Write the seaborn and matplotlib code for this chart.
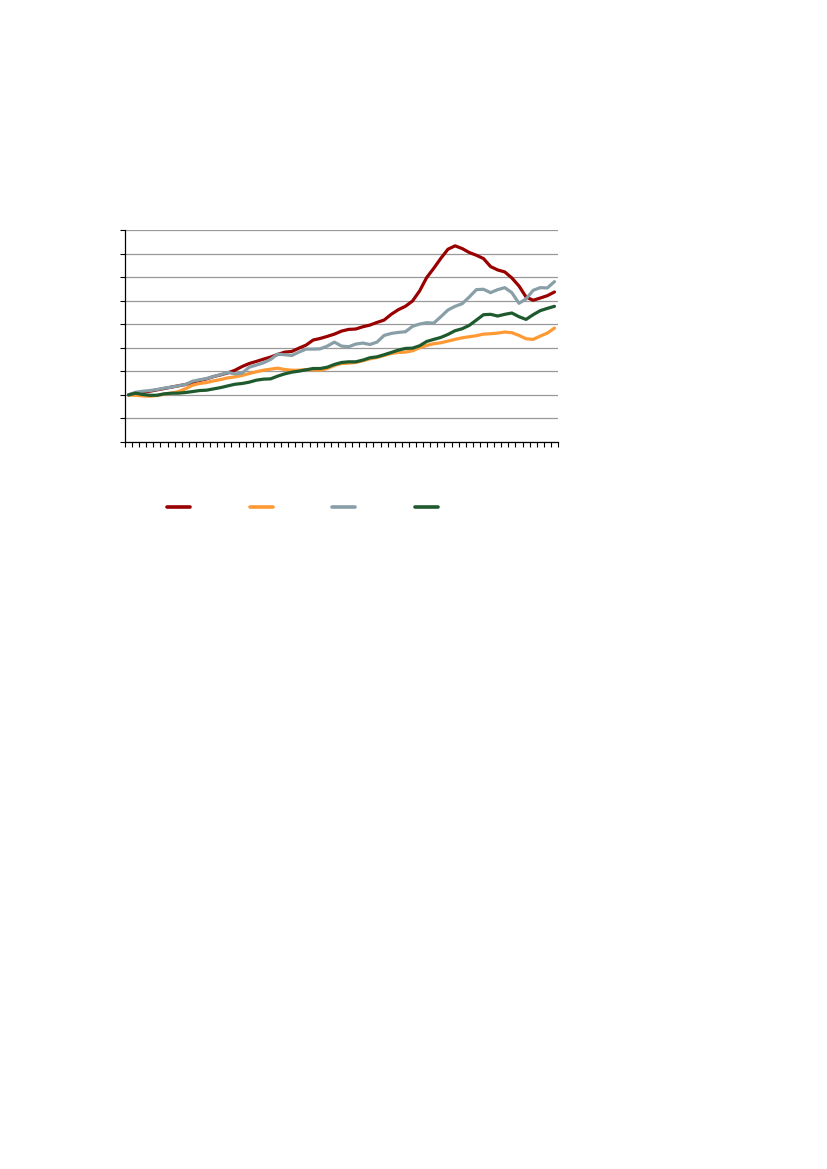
import numpy as np
import pandas as pd
import matplotlib
matplotlib.use("Agg")
import matplotlib.pyplot as plt
import seaborn as sns
from matplotlib.lines import Line2D

# quarterly index values, start = 100
periods = list(range(61))

red_series = [100.0, 102.1, 102.8, 103.9, 105.3, 106.7, 108.2, 109.6, 111.0, 113.1,
              115.2, 117.0, 119.5, 121.3, 123.4, 126.2, 130.1, 133.3, 135.5, 137.9,
              140.1, 142.9, 145.4, 146.1, 149.6, 152.8, 158.2, 159.9, 162.1, 164.5,
              167.7, 169.5, 169.9, 172.3, 174.1, 176.9, 179.4, 185.5, 190.4, 194.0,
              199.6, 210.3, 224.5, 234.4, 245.0, 254.6, 258.2, 255.3, 251.1, 248.2,
              244.7, 236.2, 232.6, 230.5, 224.1, 215.6, 203.9, 200.4, 202.8, 205.3,
              209.2]

orange_series = [100.0, 99.6, 98.9, 98.6, 99.3, 100.7, 101.8, 103.5, 106.4, 110.3,
                 112.1, 113.1, 114.9, 116.3, 118.1, 119.1, 120.6, 122.7, 124.5, 126.2,
                 127.3, 128.4, 126.9, 126.2, 126.2, 126.9, 126.6, 126.2, 128.0, 131.2,
                 133.3, 133.7, 134.4, 136.2, 138.3, 139.7, 141.8, 144.0, 145.0, 145.4,
                 146.8, 150.0, 152.5, 154.3, 155.3, 157.1, 158.9, 160.6, 161.7, 162.8,
                 164.5, 164.9, 165.6, 166.7, 166.0, 163.1, 159.6, 158.9, 162.4, 165.6,
                 170.9]

grey_series = [100.0, 102.8, 103.9, 104.6, 105.7, 107.1, 108.2, 109.6, 111.0, 114.5,
               116.0, 117.4, 119.5, 121.6, 123.8, 122.3, 123.0, 129.4, 131.6, 134.0,
               137.6, 143.3, 142.6, 141.8, 145.4, 148.6, 148.6, 148.9, 151.8, 156.0,
               151.8, 151.1, 153.9, 155.0, 153.5, 156.0, 163.1, 165.2, 166.3, 167.0,
               172.7, 175.2, 176.6, 176.2, 183.0, 190.1, 194.0, 196.8, 203.9, 211.7,
               212.1, 208.5, 211.7, 213.8, 208.5, 197.2, 201.8, 211.0, 213.8, 213.5,
               220.2]

green_series = [100.0, 101.8, 100.4, 99.6, 99.6, 101.1, 101.8, 101.8, 102.5, 103.5,
                104.6, 105.0, 106.4, 107.8, 109.6, 111.3, 112.1, 113.5, 115.6, 116.7,
                117.0, 119.9, 122.3, 124.1, 125.2, 126.6, 128.0, 128.0, 129.4, 132.3,
                134.4, 135.1, 135.1, 136.9, 139.4, 140.4, 142.6, 145.0, 147.5, 149.3,
                149.6, 152.1, 156.7, 158.9, 161.0, 164.2, 168.1, 170.2, 173.8, 179.4,
                185.1, 185.5, 183.7, 185.5, 186.9, 183.0, 180.1, 185.1, 189.4, 191.8,
                194.0]

series_names = ["red", "orange", "grey", "green"]
colors = ["#990000", "#FF9933", "#889FA8", "#1E5A2D"]

df = pd.DataFrame({
    "period": periods * 4,
    "value": red_series + orange_series + grey_series + green_series,
    "series": [n for n in series_names for _ in periods],
})

sns.set_style("white")

fig = plt.figure(figsize=(8.27, 11.69), dpi=100)
ax = fig.add_axes([125 / 827, 1 - 442 / 1169, 433 / 827, 212 / 1169])

sns.lineplot(data=df, x="period", y="value", hue="series", hue_order=series_names,
             palette=colors, linewidth=2.3, ax=ax, legend=False)

ax.set_xlim(-0.5, 60.5)
ax.set_ylim(50, 275)
ax.set_yticks(np.arange(50, 276, 25))
ax.set_xticks(np.arange(-0.5, 61, 1))
ax.set_xticklabels([])
ax.set_yticklabels([])
ax.set_xlabel("")
ax.set_ylabel("")
ax.tick_params(axis="both", direction="out", length=3.5, width=0.8, color="black",
               bottom=True, left=True)
ax.yaxis.grid(True, color="#999999", linewidth=0.9)
ax.set_axisbelow(True)
for s in ["top", "right"]:
    ax.spines[s].set_visible(False)
for s in ["left", "bottom"]:
    ax.spines[s].set_color("black")
    ax.spines[s].set_linewidth(0.9)

handles = [Line2D([0], [0], color=c, lw=2.6) for c in colors]
fig.legend(handles, ["", "", "", ""], ncol=4, frameon=False,
           loc="center left", bbox_to_anchor=(167 / 827, 1 - 508 / 1169),
           handlelength=1.65, handletextpad=0.0, columnspacing=4.3,
           borderpad=0, borderaxespad=0, fontsize=10)

fig.savefig("out.png", dpi=100)
